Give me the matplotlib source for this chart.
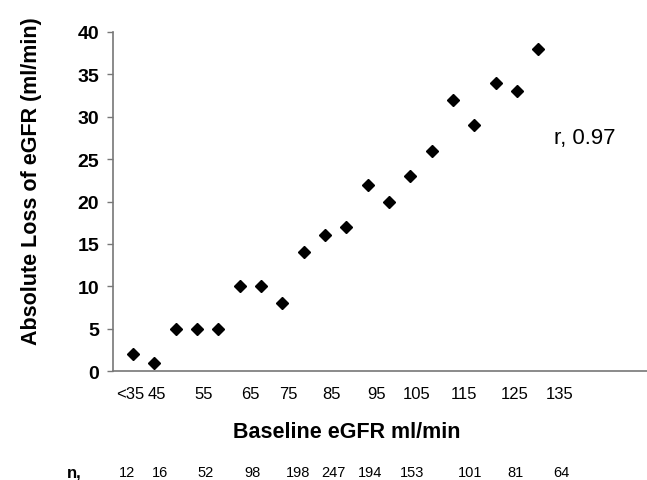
import matplotlib
matplotlib.use("Agg")
import matplotlib.pyplot as plt

plt.rcParams['font.family'] = ['Liberation Sans', 'DejaVu Sans']

# absolute loss of eGFR for each baseline bin
loss = [2, 1, 5, 5, 5, 10, 10, 8, 14, 16, 17, 22, 20, 23, 26, 32, 29, 34, 33, 38]
bins = list(range(len(loss)))

# x tick labels and where they sit along the bins
xlabels = ["<35", "45", "55", "65", "75", "85", "95", "105", "115", "125", "135"]
xlabel_pos = [-0.15, 1.1, 3.3, 5.5, 7.3, 9.3, 11.4, 13.3, 15.5, 17.9, 20.0]

# number of patients per group
n_vals = ["12", "16", "52", "98", "198", "247", "194", "153", "101", "81", "64"]
n_pos = [-0.3, 1.25, 3.4, 5.6, 7.75, 9.4, 11.1, 13.1, 15.8, 17.95, 20.1]

fig = plt.figure(figsize=(6.47, 4.81), dpi=100)
ax = fig.add_axes([0.1747, 0.2266, 0.8253, 0.7048])

ax.plot(bins, loss, linestyle="none", marker="D", ms=6.3, color="black")

ax.set_ylim(0, 40)
ax.set_xlim(-0.94, 24.1)
ax.set_yticks(range(0, 41, 5))
ax.tick_params(axis="y", length=4, width=1, color="#777777", labelsize=14, pad=6)
for t in ax.get_yticklabels():
    t.set_fontweight("bold")
ax.set_xticks(xlabel_pos)
ax.set_xticklabels(xlabels)
ax.tick_params(axis="x", length=0, labelsize=12, pad=11)

for s in ["top", "right"]:
    ax.spines[s].set_visible(False)
for s in ["left", "bottom"]:
    ax.spines[s].set_color("#777777")
    ax.spines[s].set_linewidth(1.2)

ax.set_ylabel("Absolute Loss of eGFR (ml/min)", fontsize=15.5, fontweight="bold", va="center")
ax.yaxis.set_label_coords(-0.152, 0.563)
ax.set_xlabel("Baseline eGFR ml/min", fontsize=15.5, fontweight="bold", va="center")
ax.xaxis.set_label_coords(0.438, -0.177)

ax.text(0.825, 0.69, "r, 0.97", transform=ax.transAxes, fontsize=16, va="center")

# n row under the axis
y_n = 1 - 473 / 481
fig.text(67 / 647, y_n, "n,", fontsize=12, fontweight="bold", va="center")
for p, v in zip(n_pos, n_vals):
    xd = ax.transData.transform((p, 0))[0] / fig.bbox.width
    fig.text(xd, y_n, v, fontsize=10.5, ha="center", va="center")

fig.savefig("out.png", dpi=100)
